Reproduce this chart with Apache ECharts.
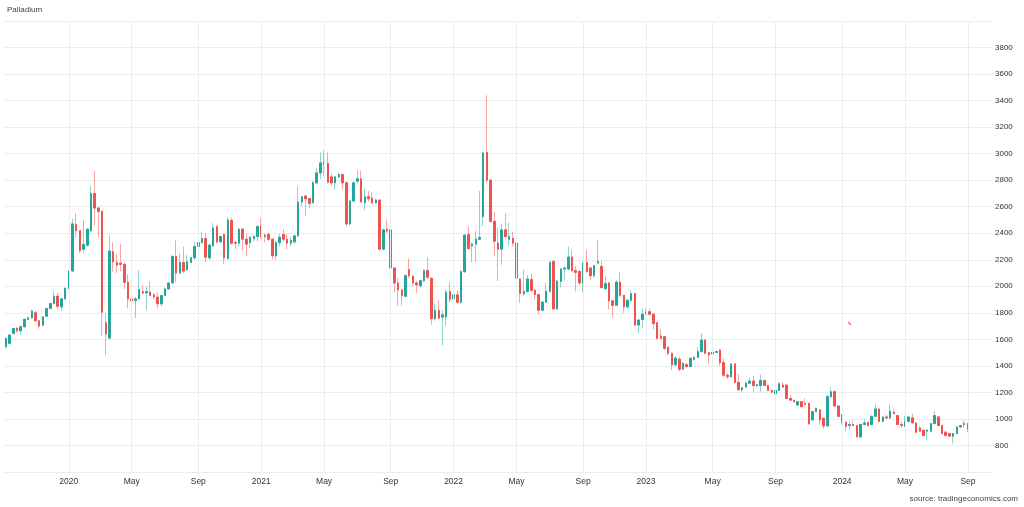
<!DOCTYPE html>
<html>
<head>
<meta charset="utf-8">
<script src="https://cdn.jsdelivr.net/npm/echarts@6/dist/echarts.min.js"></script>
<style>
html,body{margin:0;padding:0;background:#fff;}
#chart{width:1024px;height:507px;}
</style>
</head>
<body>
<div id="chart"></div>
<script>
// Weekly candles, first week starting 2019-09-02
const firstWeek = '2019-09-02';
const weekSlots = 267;
const opens = [1545,1570,1645,1682,1665,1695,1750,1762,1800,1740,1707,1775,1832,1870,1925,1845,1905,1985,2115,2465,
2420,2280,2310,2420,2700,2590,2565,1725,1610,2260,2180,2175,2165,2030,1905,1892,1905,1960,1950,1955,
1935,1918,1868,1930,1980,2025,2225,2100,2180,2125,2180,2215,2300,2330,2360,2215,2305,2450,2335,2390,
2210,2495,2330,2325,2430,2355,2330,2360,2375,2455,2385,2392,2355,2230,2330,2390,2355,2325,2335,2380,
2635,2680,2662,2630,2780,2855,2935,2925,2825,2780,2825,2842,2780,2470,2643,2793,2810,2630,2675,2665,
2630,2650,2280,2430,2425,2138,2025,1972,1925,2125,2075,2025,2005,2042,2118,2060,1755,1818,1768,1768,
1960,1905,1935,1880,2110,2390,2305,2318,2355,2525,3010,2800,2490,2325,2280,2425,2355,2362,2325,2055,
1945,1962,2050,1970,1937,1820,1880,1962,2188,1830,2038,2130,2130,2220,2118,2112,2025,2180,2138,2080,
2175,2150,1982,2025,1890,1857,2032,1932,1845,1895,1945,1708,1750,1795,1808,1790,1725,1625,1620,1540,
1495,1408,1450,1375,1410,1395,1450,1465,1508,1595,1500,1490,1502,1520,1425,1330,1318,1415,1275,1220,
1240,1270,1285,1250,1252,1290,1252,1215,1190,1215,1255,1255,1155,1142,1105,1130,1118,1118,992,1055,
1068,1005,948,1168,1205,1098,1030,975,950,958,950,865,958,975,958,1020,1075,982,1015,1008,
1052,1025,958,945,982,1008,970,932,915,908,908,965,1015,950,900,890,870,890,940,965,
965];
const closes = [1607,1632,1682,1665,1695,1750,1762,1812,1740,1700,1770,1832,1870,1925,1850,1905,1985,2115,2470,2420,
2270,2315,2430,2700,2590,2565,1805,1640,2265,2185,2160,2165,2030,1905,1892,1905,1975,1950,1960,1930,
1920,1868,1930,1980,2025,2225,2100,2180,2115,2185,2215,2300,2330,2360,2220,2310,2440,2335,2375,2215,
2500,2325,2325,2430,2355,2318,2368,2375,2450,2375,2375,2355,2230,2330,2370,2355,2325,2345,2380,2635,
2675,2660,2625,2780,2855,2930,2918,2785,2780,2825,2842,2780,2470,2643,2780,2810,2635,2675,2660,2630,
2650,2280,2425,2418,2138,2025,1972,1930,2080,2080,2025,2010,2042,2118,2068,1755,1818,1760,1785,1955,
1900,1935,1880,2110,2385,2285,2318,2355,2368,3005,2800,2490,2340,2280,2425,2375,2375,2325,2062,1945,
1962,2055,1970,1937,1820,1880,1962,2180,1830,2038,2130,2138,2220,2118,2105,2025,2175,2112,2080,2155,
2188,1990,2020,1890,1857,2032,1932,1845,1895,1945,1708,1745,1790,1808,1790,1720,1607,1607,1532,1495,
1408,1458,1375,1420,1395,1458,1465,1508,1595,1495,1482,1502,1508,1425,1330,1318,1415,1275,1220,1235,
1270,1285,1252,1258,1290,1252,1215,1202,1215,1265,1240,1155,1142,1130,1130,1092,1112,962,1055,1080,
992,948,1168,1205,1098,1020,975,945,958,950,865,958,970,950,1020,1075,982,1015,1008,1058,
1040,958,950,982,1015,970,900,908,875,915,965,1025,950,890,875,870,890,940,950,958,
925];
const lows = [1530,1560,1640,1650,1635,1690,1745,1755,1735,1680,1700,1770,1830,1865,1830,1812,1900,1980,2110,2370,
2250,2250,2300,2410,2460,2370,1625,1480,1600,2110,2100,2115,1980,1835,1750,1760,1900,1940,1820,1925,
1900,1835,1850,1925,1975,2020,2030,2090,2100,2120,2175,2200,2290,2320,2180,2200,2300,2320,2330,2170,
2200,2310,2280,2300,2270,2230,2285,2340,2340,2360,2330,2340,2205,2200,2300,2340,2280,2300,2320,2375,
2600,2530,2590,2625,2770,2810,2830,2775,2760,2730,2810,2730,2450,2460,2640,2780,2630,2575,2640,2620,
2620,2270,2270,2400,2130,1955,1855,1855,1920,2060,2000,1950,1990,2030,2050,1710,1740,1750,1555,1700,
1880,1830,1870,1870,2100,2275,2180,2185,2350,2455,2780,2480,2230,2040,2162,2360,2305,2300,2050,1875,
1925,1950,1960,1900,1788,1815,1875,1955,1825,1825,1990,2045,2120,2110,1962,2012,1955,2100,2050,2060,
2175,1985,1975,1825,1765,1850,1920,1800,1830,1880,1700,1645,1682,1780,1780,1675,1600,1600,1520,1480,
1370,1400,1358,1370,1380,1390,1440,1460,1500,1490,1415,1485,1495,1400,1320,1300,1310,1260,1215,1200,
1235,1265,1200,1240,1200,1245,1210,1195,1178,1210,1235,1150,1140,1125,1100,1088,1100,960,990,1050,
955,925,940,1160,1090,1010,958,908,920,945,862,860,950,945,950,1015,975,975,1000,1000,
1035,952,932,940,975,965,895,900,870,845,905,960,945,885,870,865,815,885,935,935,
900];
const highs = [1615,1640,1690,1695,1700,1760,1770,1825,1815,1745,1775,1835,1875,1960,1950,1910,1990,2120,2510,2550,
2425,2500,2440,2755,2870,2600,2570,1800,2385,2330,2245,2320,2180,2090,1930,1920,2120,2010,2000,2040,
1950,1955,1935,1990,2030,2235,2345,2245,2300,2235,2220,2330,2385,2410,2400,2320,2475,2460,2385,2400,
2520,2520,2340,2440,2440,2395,2380,2390,2460,2518,2400,2400,2360,2340,2395,2430,2395,2370,2390,2755,
2680,2690,2665,2795,2890,3010,3025,3010,2850,2830,2855,2850,2790,2650,2790,2875,2870,2735,2718,2710,
2660,2655,2435,2505,2430,2140,2060,1980,2090,2210,2085,2040,2050,2130,2218,2070,1870,1895,1818,1975,
2030,1950,1968,2120,2395,2455,2330,2418,2718,3010,3440,2810,2560,2440,2475,2550,2480,2412,2330,2060,
2125,2085,2095,1975,1940,1885,2025,2190,2195,2050,2140,2150,2300,2275,2150,2125,2185,2275,2145,2160,
2350,2190,2080,2030,1895,2045,2108,1935,1900,1970,1950,1755,1832,1830,1832,1795,1730,1675,1625,1545,
1500,1475,1470,1425,1420,1460,1470,1540,1645,1600,1505,1620,1515,1525,1455,1345,1420,1420,1340,1240,
1280,1310,1325,1265,1335,1295,1258,1220,1220,1278,1278,1260,1180,1145,1135,1135,1155,1120,1060,1085,
1075,1010,1180,1242,1215,1100,1035,982,982,990,955,965,1000,980,1025,1108,1080,1020,1030,1108,
1075,1030,982,1025,1025,1040,972,945,918,920,970,1058,1020,955,910,895,895,945,955,990,
970];
// small stray red mark near the start of 2024
const strayMark = [[228, 1720]];
const yTickHidden = [600, 4000];
const monthNames = ['Jan','Feb','Mar','Apr','May','Jun','Jul','Aug','Sep','Oct','Nov','Dec'];

// build weekly category dates
const weeks = [];
{
  const d0 = new Date(firstWeek + 'T00:00:00Z');
  for (let i = 0; i < weekSlots; i++) {
    const d = new Date(d0.getTime() + i * 7 * 86400000);
    weeks.push(d.toISOString().slice(0, 10));
  }
}
function weekHasMonthStart(value) {
  if (!value) return null;
  const d = new Date(value + 'T00:00:00Z');
  const e = new Date(d.getTime() + 6 * 86400000);
  if (e.getUTCDate() <= 7) {
    const m = e.getUTCMonth();
    if (m === 0 || m === 4 || m === 8) return e;
  }
  return null;
}
const labelWeeks = weeks.filter(w => weekHasMonthStart(w));
const candles = opens.map((o, i) => [o, closes[i], lows[i], highs[i]]);
const bodies = opens.map((o, i) => [o, closes[i], Math.min(o, closes[i]), Math.max(o, closes[i])]);

const chart = echarts.init(document.getElementById('chart'), null, {renderer: 'canvas'});
const FONT = '"Liberation Sans", Arial, sans-serif';
const UP = '#26a69a', DOWN = '#ef5350';
chart.setOption({
  animation: false,
  backgroundColor: '#ffffff',
  textStyle: {fontFamily: FONT},
  title: {
    text: 'Palladium', left: 7, top: 6, padding: 0,
    textStyle: {fontSize: 8, fontWeight: 'normal', color: '#444', fontFamily: FONT}
  },
  graphic: [{
    type: 'text', right: 6, top: 495,
    style: {text: 'source: tradingeconomics.com', fill: '#444', font: '8px ' + FONT}
  }],
  grid: {left: 4, right: 32, top: 21, bottom: 35, containLabel: false},
  xAxis: {
    type: 'category',
    data: weeks,
    boundaryGap: true,
    axisLine: {show: false},
    axisTick: {show: false},
    axisLabel: {
      interval: (idx, val) => !!weekHasMonthStart(val),
      formatter: (val) => {
        const e = weekHasMonthStart(val);
        if (!e) return '';
        return e.getUTCMonth() === 0 ? String(e.getUTCFullYear()) : monthNames[e.getUTCMonth()];
      },
      color: '#333', fontSize: 8.5, margin: 5, fontFamily: FONT
    },
    splitLine: {show: false}
  },
  yAxis: {
    type: 'value',
    position: 'right',
    min: 600, max: 4000, interval: 200,
    axisLine: {show: false},
    axisTick: {show: false},
    axisLabel: {
      formatter: (v) => yTickHidden.includes(v) ? '' : String(v),
      color: '#333', fontSize: 8, margin: 3, fontFamily: FONT
    },
    splitLine: {lineStyle: {color: '#ececec', width: 1}}
  },
  series: [{
    type: 'line',
    data: [],
    z: 1,
    silent: true,
    markLine: {
      silent: true,
      symbol: ['none', 'none'],
      label: {show: false},
      lineStyle: {color: '#e6eff1', width: 1, type: 'solid'},
      data: labelWeeks.map(w => ({xAxis: w}))
    }
  }, {
    type: 'candlestick',
    data: candles,
    barWidth: 2,
    z: 2,
    itemStyle: {
      color: '#8fd3ca', color0: '#f6a6a4',
      borderColor: '#8fd3ca', borderColor0: '#f6a6a4', borderWidth: 1
    }
  }, {
    type: 'candlestick',
    data: bodies,
    barWidth: 2,
    z: 3,
    itemStyle: {
      color: UP, color0: DOWN,
      borderColor: UP, borderColor0: DOWN, borderWidth: 1
    }
  }, {
    type: 'scatter',
    data: strayMark,
    symbol: 'rect',
    symbolSize: [4, 1.5],
    symbolRotate: -45,
    itemStyle: {color: DOWN},
    silent: true
  }]
});
</script>
</body>
</html>
